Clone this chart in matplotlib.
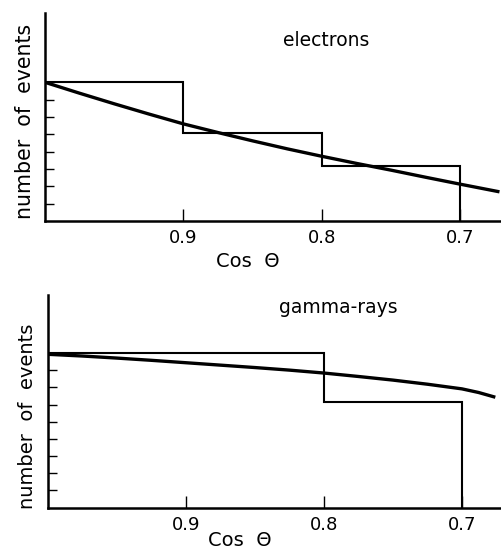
import numpy as np
import matplotlib
matplotlib.use("Agg")
import matplotlib.pyplot as plt

# --- data ---
bin_edges = [1.0, 0.9, 0.8, 0.7]
electron_counts = [8.0, 5.1, 3.2]
electron_fit_x = [1.0, 0.975, 0.95, 0.925, 0.9, 0.875, 0.85, 0.825,
                  0.8, 0.775, 0.75, 0.725, 0.7, 0.673]
electron_fit_y = [8.0, 7.37, 6.76, 6.17, 5.6, 5.1, 4.62, 4.16,
                  3.73, 3.32, 2.93, 2.52, 2.12, 1.7]

gamma_edges = [1.0, 0.8, 0.7]
gamma_counts = [9.0, 6.16]
gamma_fit_x = [1.0, 0.975, 0.95, 0.925, 0.9, 0.875, 0.85, 0.825,
               0.8, 0.775, 0.75, 0.725, 0.7, 0.688, 0.677]
gamma_fit_y = [8.92, 8.82, 8.7, 8.57, 8.43, 8.29, 8.15, 8.0,
               7.83, 7.63, 7.42, 7.18, 6.91, 6.7, 6.45]

xticks = [0.9, 0.8, 0.7]
xtick_labels = ["0.9", "0.8", "0.7"]

plt.rcParams["font.family"] = ["DejaVu Sans"]


def step_outline(edges, counts):
    xs = [edges[0]]
    ys = [counts[0]]
    for i, c in enumerate(counts):
        xs += [edges[i + 1], edges[i + 1]]
        nxt = counts[i + 1] if i + 1 < len(counts) else 0.0
        ys += [c, nxt]
    return xs, ys


def style_axes(ax, ymax, yticks, xmin):
    ax.set_xlim(1.0, xmin)
    ax.set_ylim(0, ymax)
    for s in ("top", "right"):
        ax.spines[s].set_visible(False)
    for s in ("left", "bottom"):
        ax.spines[s].set_linewidth(1.8)
    ax.set_xticks(xticks)
    ax.set_xticklabels(xtick_labels)
    ax.set_yticks(yticks)
    ax.set_yticklabels([])
    ax.tick_params(axis="x", direction="in", length=8.5, width=1.0,
                   labelsize=13, pad=6)
    ax.tick_params(axis="y", direction="in", length=6.5, width=1.0)


fig = plt.figure(figsize=(5.02, 5.59), dpi=100)

# electrons panel
ax1 = fig.add_axes([0.0896, 0.6047, 0.9104, 0.3721])
hx, hy = step_outline(bin_edges, electron_counts)
ax1.plot(hx, hy, color="black", lw=1.5, solid_joinstyle="miter")
ax1.plot(electron_fit_x, electron_fit_y, color="black", lw=2.4)
style_axes(ax1, 12.0, np.arange(1, 9), 0.67)
ax1.text(0.616, 0.87, "electrons", transform=ax1.transAxes,
         ha="center", va="center", fontsize=13.5)
ax1.text(0.444, -0.197, "Cos  Θ", transform=ax1.transAxes,
         ha="center", va="center", fontsize=14)
ax1.text(-0.043, 0.478, "number  of  events", transform=ax1.transAxes,
         ha="center", va="center", rotation=90, fontsize=14.8)

# gamma-rays panel
ax2 = fig.add_axes([0.0956, 0.0918, 0.9044, 0.3805])
gx, gy = step_outline(gamma_edges, gamma_counts)
ax2.plot(gx, gy, color="black", lw=1.5, solid_joinstyle="miter")
ax2.plot(gamma_fit_x, gamma_fit_y, color="black", lw=2.4)
style_axes(ax2, 12.37, np.arange(1, 10), 0.671)
ax2.text(0.639, 0.943, "gamma-rays", transform=ax2.transAxes,
         ha="center", va="center", fontsize=13.5)
ax2.text(0.423, -0.152, "Cos  Θ", transform=ax2.transAxes,
         ha="center", va="center", fontsize=14)
ax2.text(-0.045, 0.43, "number  of  events", transform=ax2.transAxes,
         ha="center", va="center", rotation=90, fontsize=14)

fig.savefig("out.png", dpi=100)
